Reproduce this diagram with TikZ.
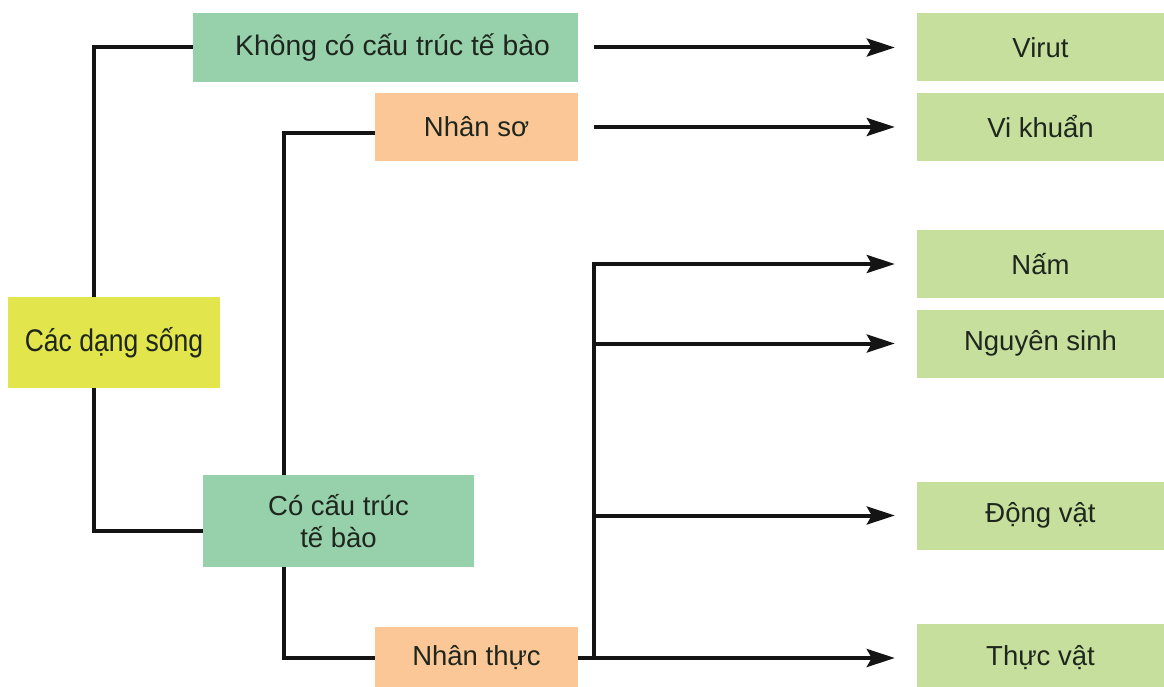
\documentclass[tikz,border=0pt]{standalone}
\usepackage{fontspec}
\setmainfont{Liberation Sans}
\usetikzlibrary{arrows.meta,calc}
\definecolor{cdark}{HTML}{97D1AB}
\definecolor{corange}{HTML}{FCC797}
\definecolor{clight}{HTML}{C6DF9D}
\definecolor{cyellow}{HTML}{E2E54C}
\definecolor{ctext}{HTML}{1E261E}
\begin{document}
\begin{tikzpicture}[x=1pt,y=-1pt,
  box/.style={rectangle,inner sep=0pt,text=ctext,align=center,
    font=\fontsize{27.5}{32}\selectfont},
  gbox/.style={box,fill=cdark},
  obox/.style={box,fill=corange},
  lbox/.style={box,fill=clight,minimum width=247pt,minimum height=68pt},
  ybox/.style={box,fill=cyellow},
  conn/.style={line width=4pt,draw=black!92},
  arr/.style={conn,-{Stealth[length=28pt,width=18pt,inset=5pt]},shorten >=22pt}]
\useasboundingbox (0,0) rectangle (1164,687);
\clip (0,0) rectangle (1164,687);
% left side
\node[ybox,minimum width=212pt,minimum height=91pt] (cds) at (114,342.5)
  {\fontsize{26.5}{32}\selectfont\scalebox{1}[1.18]{Các dạng sống}};
\node[gbox,minimum width=385pt,minimum height=69pt,font=\fontsize{28.3}{32}\selectfont] (kc) at (385.5,47.5) {\hspace*{14pt}Không có cấu trúc tế bào};
\node[obox,minimum width=203pt,minimum height=68pt] (ns) at (476.5,127) {Nhân sơ};
\node[gbox,minimum width=271pt,minimum height=92pt] (cct) at (338.5,521) {Có cấu trúc\\tế bào};
\node[obox,minimum width=203pt,minimum height=62pt] (nt) at (476.5,658) {Nhân thực};
% right side
\node[lbox] (vr) at (1040.5,47.5) {Virut};
\node[lbox] (vk) at (1040.5,127) {Vi khuẩn};
\node[lbox] (nm) at (1040.5,264) {Nấm};
\node[lbox] (ngs) at (1040.5,343.5) {Nguyên sinh};
\node[lbox] (dv) at (1040.5,515.5) {Động vật};
\node[lbox] (tv) at (1040.5,658) {Thực vật};
% connectors
\coordinate (c1) at (94,0);
\coordinate (c2) at (284,0);
\coordinate (bus) at (594,0);
\draw[conn] (cds.north -| c1) |- (kc.west);
\draw[conn] (cds.south -| c1) |- ([yshift=-10pt]cct.west);
\draw[conn] (cct.north -| c2) |- ([yshift=-6pt]ns.west);
\draw[conn] (cct.south -| c2) |- (nt.west);
\draw[conn] ([yshift=2pt]bus |- nm.west) -- (bus |- nt.east);
\draw[arr,shorten <=16pt] (kc.east) -- (vr.west);
\draw[arr,shorten <=16pt] (ns.east) -- (vk.west);
\draw[arr] ([xshift=-2pt]bus |- nm.west) -- (nm.west);
\draw[arr] ([xshift=-2pt]bus |- ngs.west) -- (ngs.west);
\draw[arr] ([xshift=-2pt]bus |- dv.west) -- (dv.west);
\draw[arr] (nt.east) -- (tv.west);
\end{tikzpicture}
\end{document}
